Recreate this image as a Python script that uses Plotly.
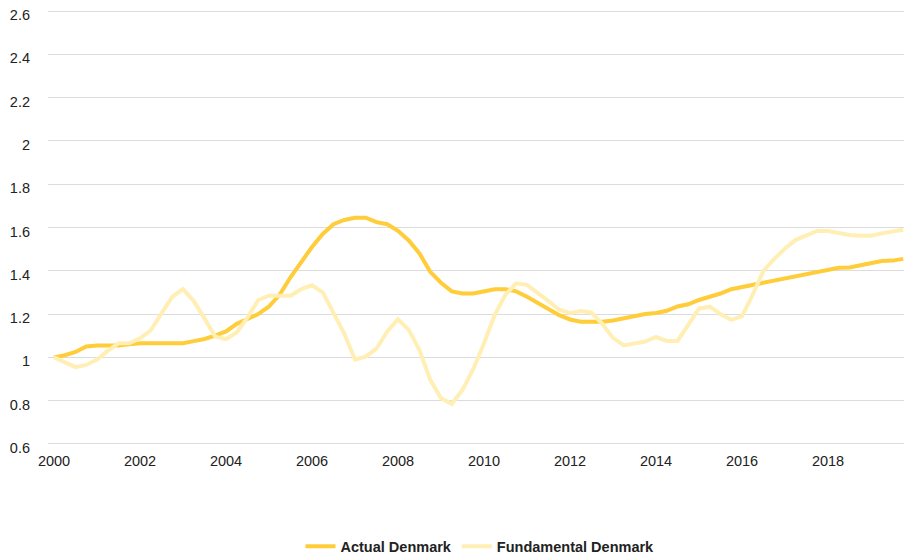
import plotly.graph_objects as go

quarters = [2000 + i / 4 for i in range(80)]

actual_denmark = [
    1.00, 1.01, 1.025, 1.05, 1.055, 1.055, 1.055, 1.06, 1.065, 1.065,
    1.065, 1.065, 1.065, 1.075, 1.085, 1.10, 1.12, 1.155, 1.18, 1.20,
    1.235, 1.29, 1.37, 1.44, 1.51, 1.57, 1.615, 1.635, 1.645, 1.645,
    1.625, 1.615, 1.585, 1.54, 1.48, 1.395, 1.345, 1.305, 1.295, 1.295,
    1.305, 1.315, 1.315, 1.305, 1.28, 1.25, 1.22, 1.195, 1.175, 1.165,
    1.165, 1.165, 1.17, 1.18, 1.19, 1.20, 1.205, 1.215, 1.235, 1.245,
    1.265, 1.28, 1.295, 1.315, 1.325, 1.335, 1.345, 1.355, 1.365, 1.375,
    1.385, 1.395, 1.405, 1.414, 1.415, 1.425, 1.435, 1.445, 1.447, 1.455,
]

fundamental_denmark = [
    1.00, 0.975, 0.955, 0.965, 0.99, 1.03, 1.065, 1.065, 1.088, 1.125,
    1.205, 1.28, 1.315, 1.26, 1.18, 1.096, 1.084, 1.115, 1.185, 1.265,
    1.285, 1.285, 1.285, 1.315, 1.333, 1.30, 1.20, 1.11, 0.99, 1.003,
    1.04, 1.12, 1.176, 1.127, 1.034, 0.896, 0.811, 0.785, 0.85, 0.945,
    1.065, 1.196, 1.29, 1.342, 1.335, 1.30, 1.26, 1.22, 1.205, 1.214,
    1.207, 1.155, 1.09, 1.055, 1.065, 1.073, 1.094, 1.076, 1.076, 1.15,
    1.225, 1.234, 1.20, 1.173, 1.19, 1.29, 1.40, 1.455, 1.503, 1.543,
    1.565, 1.584, 1.584, 1.573, 1.565, 1.562, 1.562, 1.573, 1.58, 1.59,
]

x_ticks = list(range(2000, 2019, 2))
x_tick_labels = [str(y) for y in x_ticks]
y_ticks = [0.6, 0.8, 1, 1.2, 1.4, 1.6, 1.8, 2, 2.2, 2.4, 2.6]
y_tick_labels = ["0.6", "0.8", "1", "1.2", "1.4", "1.6", "1.8", "2", "2.2", "2.4", "2.6"]

fig = go.Figure()
fig.add_trace(go.Scatter(
    x=quarters, y=actual_denmark, mode="lines", name="Actual Denmark",
    line=dict(color="#FFCC3A", width=4),
))
fig.add_trace(go.Scatter(
    x=quarters, y=fundamental_denmark, mode="lines", name="Fundamental Denmark",
    line=dict(color="#FFEFB5", width=4),
))

# page body has an 8px default margin, so the figure is sized 904x548
fig.update_layout(
    width=904, height=548,
    margin=dict(l=40, r=0, t=2, b=111, autoexpand=False),
    paper_bgcolor="white", plot_bgcolor="white",
    font=dict(family="Liberation Sans, Arial, sans-serif", size=14.5, color="#222222"),
    showlegend=True,
    legend=dict(
        orientation="h", x=0.5, xanchor="center", y=-0.233, yanchor="middle",
        font=dict(size=14.5, color="#222222", weight="bold"),
        itemwidth=30, traceorder="normal",
    ),
    xaxis=dict(
        range=[2000 - 6 / 43, 2000 + 858 / 43],
        tickmode="array", tickvals=x_ticks, ticktext=x_tick_labels,
        showgrid=False, zeroline=False, showline=False, ticks="",
        ticklabelstandoff=5, automargin=False,
    ),
    yaxis=dict(
        range=[0.595, 2.605],
        tickmode="array", tickvals=y_ticks, ticktext=y_tick_labels,
        showgrid=True, gridcolor="#DCDCDC", gridwidth=1,
        zeroline=False, showline=False, ticks="",
        ticklabelstandoff=17, ticklabelshift=4, ticklabeloverflow="allow",
        automargin=False,
    ),
)

fig.write_html("out.html")
